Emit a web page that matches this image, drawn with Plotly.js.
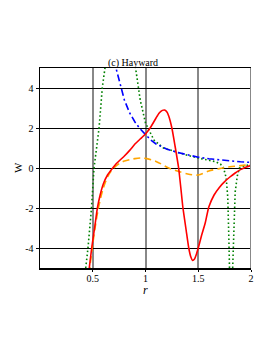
<!DOCTYPE html>
<html><head><meta charset="utf-8">
<script src="https://cdn.plot.ly/plotly-3.0.1.min.js"></script>
<style>html,body{margin:0;padding:0;background:#fff;}#chart{width:273px;height:353px;}</style>
</head><body><div id="chart"></div>
<script>
// Series values
const redR = [0.46,0.49,0.52,0.544,0.57,0.6,0.64,0.69,0.72,0.76,0.8,0.85,0.9,0.95,1.0,1.05,1.1,1.13,1.16,1.18,1.2,1.22,1.25,1.28,1.314,1.335,1.355,1.385,1.41,1.43,1.446,1.465,1.48,1.5,1.53,1.566,1.6,1.65,1.7,1.75,1.8,1.85,1.9,1.95,2.0];
const redW = [-5.3,-4,-2.9,-2,-1.35,-0.8,-0.35,0,0.2,0.4,0.6,0.88,1.2,1.45,1.7,2.05,2.5,2.75,2.88,2.9,2.82,2.6,2.0,1.1,0,-1.0,-2,-3.1,-4,-4.45,-4.62,-4.55,-4.35,-4.0,-3.4,-2.75,-1.95,-1.35,-0.97,-0.68,-0.45,-0.25,-0.08,0.04,0.12];

const orangeR = [0.465,0.5,0.55,0.6,0.65,0.7,0.75,0.8,0.9,0.95,1.0,1.1,1.22,1.3,1.4,1.5,1.6,1.7,1.8,1.9,2.0];
const orangeW = [-5.3,-3.8,-2.1,-1.0,-0.35,0,0.22,0.35,0.47,0.5,0.48,0.33,0,-0.15,-0.3,-0.35,-0.15,-0.03,0.06,0.12,0.17];

const blueR = [0.70,0.72,0.76,0.8,0.85,0.9,0.95,1.0,1.05,1.1,1.2,1.3,1.4,1.5,1.6,1.7,1.8,1.9,2.0];
const blueW = [5.4,5.0,4.1,3.4,2.75,2.3,1.95,1.65,1.4,1.2,0.95,0.78,0.65,0.54,0.46,0.4,0.35,0.31,0.28];

const greenR = [0.42,0.434,0.455,0.488,0.512,0.56,0.59,0.616,0.65,0.75,0.85,0.906,0.95,1.0,1.08,1.17,1.3,1.4,1.5,1.6,1.66,1.71,1.74,1.765,1.78,1.79,1.8,null,1.82,1.827,1.835,1.85,1.87,1.89,1.95,2.0];
const greenW = [-5.6,-5,-4,-2,0,2,4,5,6.5,8,6.5,5,3.4,2.25,1.4,1.0,0.78,0.63,0.5,0.4,0.32,0.2,0,-0.5,-1.5,-3.5,-6,null,-6,-5,-3,-1.2,-0.4,0,0.12,0.17];

const xTicks = [0.5,1,1.5,2];
const xTickText = ['0.5','1','1.5','2'];
const yTicks = [-4,-2,0,2,4];
const yTickText = ['-4','-2','0','2','4'];

const serif = '"Liberation Serif", "Times New Roman", serif';

const traces = [
  {x: greenR, y: greenW, mode:'lines', connectgaps:false, line:{color:'#008000', width:1.6, dash:'1.6px,2.4px'}},
  {x: blueR, y: blueW, mode:'lines', line:{color:'#0000ff', width:1.6, dash:'7px,3px,2px,3px'}},
  {x: orangeR, y: orangeW, mode:'lines', line:{color:'#ffa500', width:1.6, dash:'7px,4px', shape:'spline', smoothing:0.8}},
  {x: redR, y: redW, mode:'lines', line:{color:'#ff0000', width:1.6, shape:'spline', smoothing:0.5}}
];

const layout = {
  width:273, height:353,
  margin:{l:40, r:22, t:68, b:85},
  showlegend:false,
  paper_bgcolor:'#fff', plot_bgcolor:'#fff',
  font:{family:serif, size:10, color:'#000'},
  title:{text:'(c) Hayward', x:133/273, xref:'container', xanchor:'center', y:1-62/353, yref:'container', yanchor:'middle', font:{family:serif, size:10, color:'#000'}},
  xaxis:{range:[0,2], tickvals:xTicks, ticktext:xTickText, showgrid:true, gridcolor:'#888', gridwidth:2,
    zeroline:false, showline:true, linecolor:'#000', linewidth:1.5, mirror:true, ticks:'outside', ticklen:2, tickcolor:'#000',
    ticklabelstandoff:-2, tickfont:{family:serif, size:10}},
  yaxis:{range:[-5,5], tickvals:yTicks, ticktext:yTickText, showgrid:true, gridcolor:'#000', gridwidth:1,
    zeroline:false, showline:true, linecolor:'#000', linewidth:1.5, ticks:'outside', ticklen:3, tickcolor:'#000',
    tickfont:{family:serif, size:10}},
  annotations:[
    {text:'<i>r</i>', xref:'paper', yref:'paper', x:0.5, y:-(290-268)/200, xanchor:'center', yanchor:'middle', showarrow:false, font:{family:serif, size:12}},
    {text:'W', xref:'paper', yref:'paper', x:(18-40)/211, y:0.5, xanchor:'center', yanchor:'middle', textangle:-90, showarrow:false, font:{family:serif, size:11}}
  ],
  shapes:[{type:'line', xref:'x', yref:'paper', x0:2, x1:2, y0:0, y1:1, line:{color:'#888', width:2}}]
};

Plotly.newPlot('chart', traces, layout, {displayModeBar:false, staticPlot:true});
</script></body></html>
